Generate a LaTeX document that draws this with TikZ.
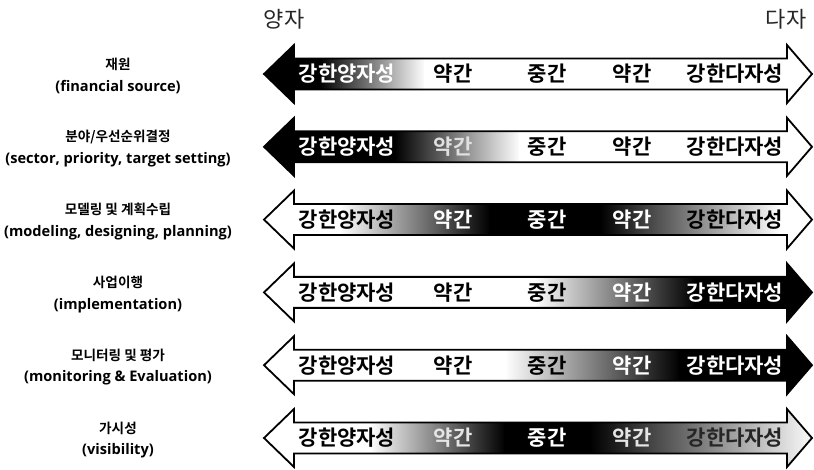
\documentclass[tikz,border=0pt]{standalone}
\usepackage{fontspec}
\newfontfamily\kr{Noto Sans CJK KR}[BoldFont={Noto Sans CJK KR Bold}]
\newfontfamily\en{Open Sans}
\begin{document}
\begin{tikzpicture}[x=1pt,y=-1pt,
  lab/.style={font=\kr\bfseries\fontsize{21}{21}\selectfont, inner sep=0pt},
  side/.style={font=\kr\bfseries\fontsize{13.6}{13.6}\selectfont, inner sep=0pt},
  sideen/.style={font=\en\bfseries\fontsize{14.6}{14.6}\selectfont, inner sep=0pt},
  top/.style={font=\kr\fontsize{22}{22}\selectfont, inner sep=0pt, text=black!85},
  outline/.style={draw=black, line width=1.8pt, line join=miter}]
\useasboundingbox (0,0) rectangle (814,470);
\newcommand\arrowpath[1]{(264,#1) -- (294,#1-29) -- (294,#1-15.5) -- (787,#1-15.5) -- (787,#1-29) -- (812,#1) -- (787,#1+29) -- (787,#1+15.5) -- (294,#1+15.5) -- (294,#1+29) -- cycle}
\newcommand\seg[5]{\fill[left color=#4,right color=#5] (#2-0.3,#1-31) rectangle (#3+0.3,#1+31);}
% top labels
\node[top] (yang) at (284,19) {양자};
\node[top] (da) at (786,19) {다자};
% row 1
\begin{scope}\clip \arrowpath{74};
\seg{74}{260}{320}{black}{black}\seg{74}{320}{425}{black}{white}\seg{74}{425}{815}{white}{white}
\end{scope}
\draw[outline] \arrowpath{74};
% row 2
\begin{scope}\clip \arrowpath{146.8};
\seg{146.8}{260}{395}{black}{black}\seg{146.8}{395}{520}{black}{white}\seg{146.8}{520}{815}{white}{white}
\end{scope}
\draw[outline] \arrowpath{146.8};
% row 3
\begin{scope}\clip \arrowpath{219.6};
\seg{219.6}{260}{340}{white}{white}\seg{219.6}{340}{490}{white}{black}\seg{219.6}{490}{600}{black}{black}\seg{219.6}{600}{780}{black}{white}\seg{219.6}{780}{815}{white}{white}
\end{scope}
\draw[outline] \arrowpath{219.6};
% row 4
\begin{scope}\clip \arrowpath{292.4};
\seg{292.4}{260}{535}{white}{white}\seg{292.4}{535}{695}{white}{black}\seg{292.4}{695}{815}{black}{black}
\end{scope}
\draw[outline] \arrowpath{292.4};
% row 5
\begin{scope}\clip \arrowpath{365.2};
\seg{365.2}{260}{505}{white}{white}\seg{365.2}{505}{680}{white}{black}\seg{365.2}{680}{815}{black}{black}
\end{scope}
\draw[outline] \arrowpath{365.2};
% row 6
\begin{scope}\clip \arrowpath{438};
\seg{438}{260}{370}{white}{white}\seg{438}{370}{505}{white}{black}\seg{438}{505}{590}{black}{black}\seg{438}{590}{805}{black}{black!5}\seg{438}{805}{815}{black!5}{black!5}
\end{scope}
\draw[outline] \arrowpath{438};
% arrow texts
\node[lab,text=white] (a1) at (347,74) {강한양자성};
\node[lab] (b1) at (453,74) {약간};
\node[lab] (c1) at (547,74) {중간};
\node[lab] (d1) at (632,74) {약간};
\node[lab] (e1) at (735,74) {강한다자성};
\node[lab,text=white] (a2) at (347,146.8) {강한양자성};
\node[lab,text=black!12] (b2) at (453,146.8) {약간};
\node[lab] (c2) at (547,146.8) {중간};
\node[lab] (d2) at (632,146.8) {약간};
\node[lab] (e2) at (735,146.8) {강한다자성};
\node[lab] (a3) at (347,219.6) {강한양자성};
\node[lab,text=white] (b3) at (453,219.6) {약간};
\node[lab,text=white] (c3) at (547,219.6) {중간};
\node[lab,text=white] (d3) at (632,219.6) {약간};
\node[lab] (e3) at (735,219.6) {강한다자성};
\node[lab] (a4) at (347,292.4) {강한양자성};
\node[lab] (b4) at (453,292.4) {약간};
\node[lab] (c4) at (547,292.4) {중간};
\node[lab,text=white] (d4) at (632,292.4) {약간};
\node[lab,text=white] (e4) at (735,292.4) {강한다자성};
\node[lab] (a5) at (347,365.2) {강한양자성};
\node[lab] (b5) at (453,365.2) {약간};
\node[lab] (c5) at (547,365.2) {중간};
\node[lab,text=white] (d5) at (632,365.2) {약간};
\node[lab,text=white] (e5) at (735,365.2) {강한다자성};
\node[lab] (a6) at (347,438) {강한양자성};
\node[lab,text=black!10] (b6) at (453,438) {약간};
\node[lab,text=white] (c6) at (547,438) {중간};
\node[lab,text=black!10] (d6) at (632,438) {약간};
\node[lab,text=black!85] (e6) at (735,438) {강한다자성};
% side labels
\node[side] (k1) at (118,64) {재원};
\node[sideen] (n1) at (118,87) {(financial source)};
\node[side] (k2) at (118,136.8) {분야/우선순위결정};
\node[sideen] (n2) at (118,159.8) {(sector, priority, target setting)};
\node[side] (k3) at (118,209.6) {모델링 및 계획수립};
\node[sideen] (n3) at (118,232.6) {(modeling, designing, planning)};
\node[side] (k4) at (118,282.4) {사업이행};
\node[sideen] (n4) at (118,305.4) {(implementation)};
\node[side] (k5) at (118,355.2) {모니터링 및 평가};
\node[sideen] (n5) at (118,378.2) {(monitoring \& Evaluation)};
\node[side] (k6) at (118,428) {가시성};
\node[sideen] (n6) at (118,451) {(visibility)};
\end{tikzpicture}
\end{document}
